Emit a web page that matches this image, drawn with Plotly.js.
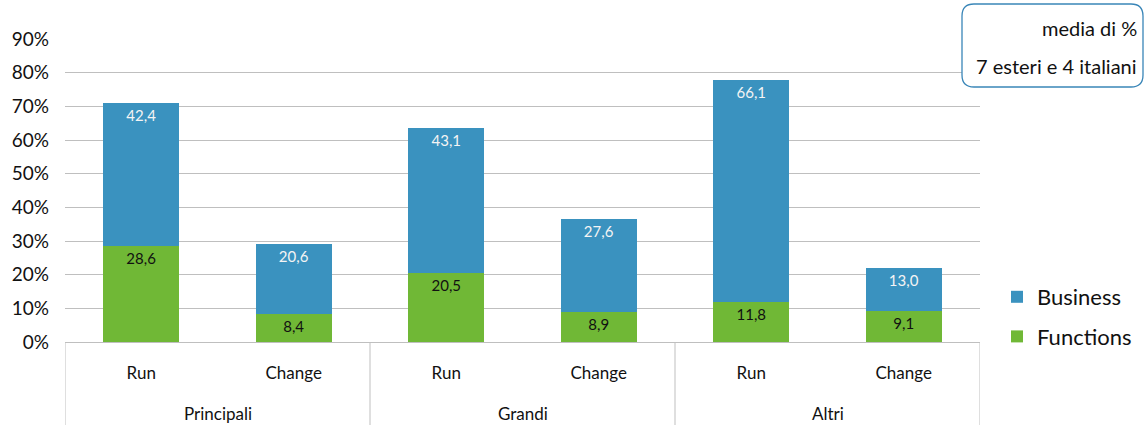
<!DOCTYPE html>
<html><head><meta charset="utf-8">
<script src="https://cdn.plot.ly/plotly-3.0.1.min.js"></script>
<style>html,body{margin:0;padding:0;background:#fff}#chart{width:1146px;height:425px}</style>
</head><body><div id="chart"></div>
<script>
const groups = ['Principali', 'Grandi', 'Altri'];
const subcats = ['Run', 'Change', 'Run', 'Change', 'Run', 'Change'];
const functionsVals = [28.6, 8.4, 20.5, 8.9, 11.8, 9.1];
const businessVals = [42.4, 20.6, 43.1, 27.6, 66.1, 13.0];
const yTickVals = [0, 10, 20, 30, 40, 50, 60, 70, 80, 90];
const yTickText = ['0%', '10%', '20%', '30%', '40%', '50%', '60%', '70%', '80%', '90%'];
const noteLines = ['media di %', '7 esteri e 4 italiani'];

const FONT = 'Lato, "Open Sans", sans-serif';
const W = 1146, H = 425;
const M = {l: 65, r: 166, t: 39, b: 83, autoexpand: false};
const PW = W - M.l - M.r, PH = H - M.t - M.b;
const px2x = p => (p - M.l) / PW;
const py2y = p => (H - M.b - p) / PH;

const xIdx = subcats.map((_, i) => i);

const traces = [
  {type: 'bar', name: 'Functions', x: xIdx, y: functionsVals, marker: {color: '#70b836'},
   texttemplate: '%{y:.1f}', textposition: 'inside', insidetextanchor: 'end', textangle: 0,
   textfont: {family: FONT, size: 15, color: '#111'}, hoverinfo: 'none', legendgroup: 'f', legendrank: 2},
  {type: 'bar', name: 'Business', x: xIdx, y: businessVals, marker: {color: '#3a92bf'},
   texttemplate: '%{y:.1f}', textposition: 'inside', insidetextanchor: 'end', textangle: 0,
   textfont: {family: FONT, size: 15, color: '#f4f4f4'}, hoverinfo: 'none', legendgroup: 'b', legendrank: 1}
];

const shapes = [];
for (let k = 0; k <= groups.length; k++) {
  shapes.push({type: 'line', xref: 'x', yref: 'paper', x0: 2 * k - 0.5, x1: 2 * k - 0.5,
    y0: 0, y1: -M.b / PH, line: {color: '#bfbfbf', width: 1}});
}
// rounded note box
(function () {
  const x0 = 962, x1 = 1143, y0 = 4, y1 = 87, r = 12;
  const X = px2x, Y = py2y;
  const path = `M ${X(x0 + r)} ${Y(y0)} L ${X(x1 - r)} ${Y(y0)} Q ${X(x1)} ${Y(y0)} ${X(x1)} ${Y(y0 + r)} ` +
    `L ${X(x1)} ${Y(y1 - r)} Q ${X(x1)} ${Y(y1)} ${X(x1 - r)} ${Y(y1)} L ${X(x0 + r)} ${Y(y1)} ` +
    `Q ${X(x0)} ${Y(y1)} ${X(x0)} ${Y(y1 - r)} L ${X(x0)} ${Y(y0 + r)} Q ${X(x0)} ${Y(y0)} ${X(x0 + r)} ${Y(y0)} Z`;
  shapes.push({type: 'path', xref: 'paper', yref: 'paper', path: path, layer: 'above',
    fillcolor: '#ffffff', line: {color: '#3a86b8', width: 1.3}});
})();

const annotations = groups.map((g, i) => ({
  text: g, xref: 'x', yref: 'paper', x: 2 * i + 0.5, y: py2y(413), showarrow: false,
  xanchor: 'center', yanchor: 'middle', font: {family: FONT, size: 17, color: '#111'}
}));
const noteY = [28, 66];
noteLines.forEach((t, i) => annotations.push({
  text: t, xref: 'paper', yref: 'paper', x: px2x(1139), y: py2y(noteY[i]), showarrow: false,
  xanchor: 'right', yanchor: 'middle', font: {family: FONT, size: 20, color: '#111'}
}));

const layout = {
  width: W, height: H, margin: M, paper_bgcolor: '#fff', plot_bgcolor: '#fff',
  separators: ',.', barmode: 'stack', bargap: 0.5,
  font: {family: FONT, color: '#111'},
  xaxis: {range: [-0.5, 5.5], tickvals: xIdx, ticktext: subcats, showgrid: false, zeroline: false,
    showline: true, linecolor: '#bfbfbf', linewidth: 1, ticks: '', ticklabelstandoff: 16,
    tickfont: {family: FONT, size: 17, color: '#111'}, fixedrange: true},
  yaxis: {range: [0, 90], tickvals: yTickVals, ticktext: yTickText, showgrid: true, gridcolor: '#bfbfbf',
    gridwidth: 1, zeroline: false, showline: false, ticks: '', ticklabelstandoff: 15,
    tickfont: {family: FONT, size: 19, color: '#111'}, fixedrange: true},
  legend: {x: px2x(997), xanchor: 'left', y: py2y(358), yanchor: 'bottom', traceorder: 'grouped',
    tracegroupgap: 8, font: {family: FONT, size: 22, color: '#111'}, bgcolor: 'rgba(0,0,0,0)'},
  shapes: shapes, annotations: annotations, showlegend: true
};

Plotly.newPlot('chart', traces, layout, {displayModeBar: false, staticPlot: true});
</script></body></html>
